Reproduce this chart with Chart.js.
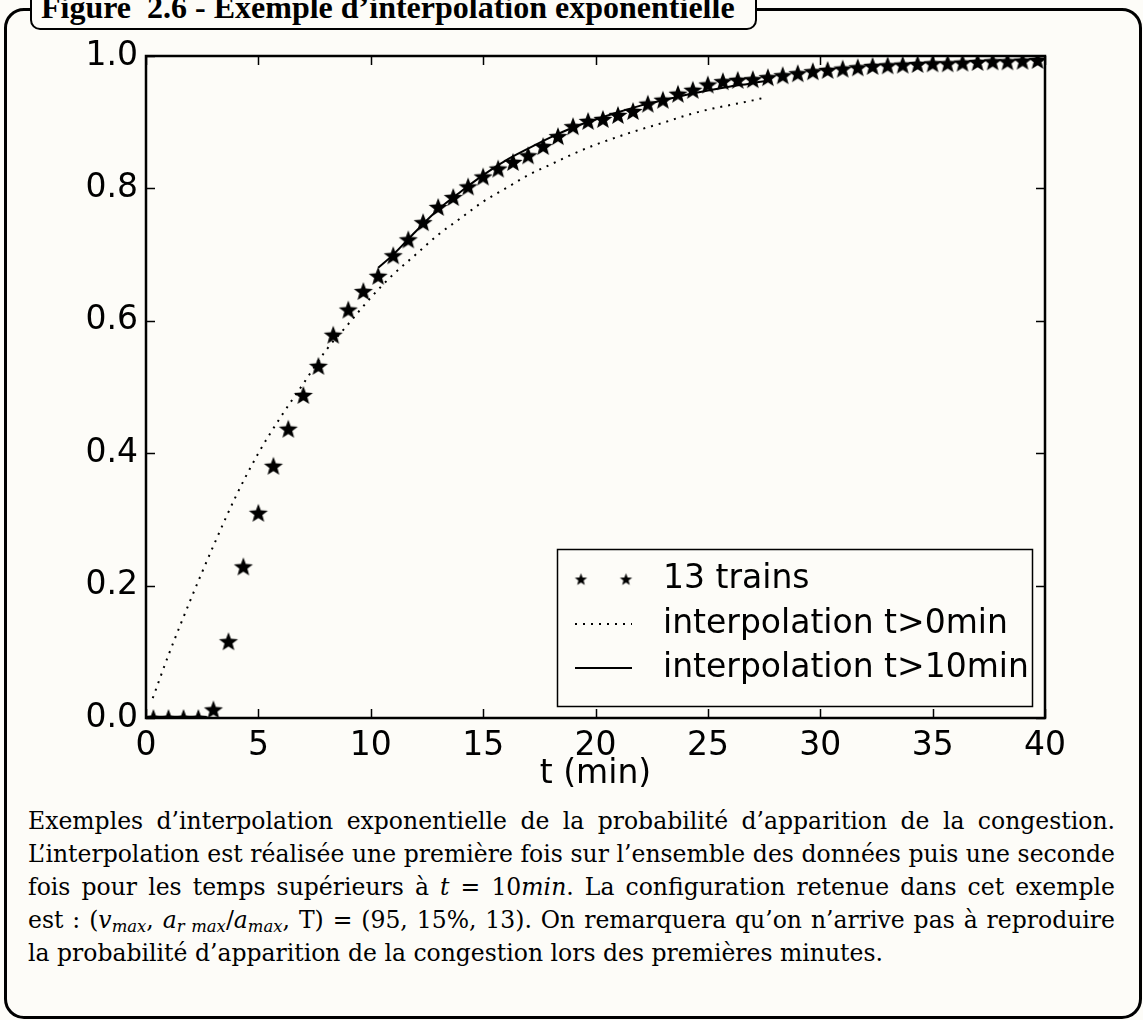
<!DOCTYPE html>
<html lang="fr">
<head>
<meta charset="utf-8">
<script src="https://cdn.jsdelivr.net/npm/chart.js@4.4.1/dist/chart.umd.min.js"></script>
<style>
  body { margin: 0; width: 1143px; height: 1020px; overflow: hidden; position: relative; background: #fdfcf8; }
  #frame { position: absolute; left: 4px; top: 8px; width: 1132px; height: 1005px; border: 3px solid #000; border-radius: 20px; }
  #title {
    position: absolute; left: 30px; top: -26px; width: 727px; height: 56px;
    border: 2px solid #000; border-radius: 10px; background: #fdfcf8;
    display: flex; align-items: flex-end; padding: 0 0 5px 9px; box-sizing: border-box;
    font: bold 32px "Liberation Serif", serif; white-space: nowrap; line-height: 1;
  }
  #wrap { position: absolute; left: 0; top: 0; width: 1143px; height: 800px; }
  #caption { position: absolute; left: 28px; top: 805px; width: 1087px; font: 23.5px "DejaVu Serif", serif; line-height: 33px; color: #000; }
  #caption div { white-space: nowrap; text-align: justify; text-align-last: justify; }
  #caption div.last { text-align-last: left; }
  #caption sub { font-size: 70%; vertical-align: -4px; line-height: 0; }
</style>
</head>
<body>
<div id="frame"></div>
<div id="title">Figure&nbsp; 2.6 - Exemple d’interpolation exponentielle</div>
<div id="wrap"><canvas id="chart" width="1143" height="800"></canvas></div>
<div id="caption">
  <div><span>Exemples d’interpolation exponentielle de la probabilité d’apparition de la congestion.</span></div>
  <div><span>L’interpolation est réalisée une première fois sur l’ensemble des données puis une seconde</span></div>
  <div><span>fois pour les temps supérieurs à <i>t</i> = 10<i>min</i>. La configuration retenue dans cet exemple</span></div>
  <div><span>est : (<i>v<sub>max</sub></i>, <i>a<sub>r max</sub></i>/<i>a<sub>max</sub></i>, T) = (95, 15%, 13). On remarquera qu’on n’arrive pas à reproduire</span></div>
  <div class="last"><span>la probabilité d’apparition de la congestion lors des premières minutes.</span></div>
</div>
<script>
// measured probability, 13 trains
const starT = [0.33, 1.00, 1.67, 2.33, 3.00, 3.67, 4.33, 5.00, 5.67, 6.33, 7.00, 7.67, 8.33, 9.00, 9.67,
  10.33, 11.00, 11.67, 12.33, 13.00, 13.67, 14.33, 15.00, 15.67, 16.33, 17.00, 17.67, 18.33, 19.00, 19.67,
  20.33, 21.00, 21.67, 22.33, 23.00, 23.67, 24.33, 25.00, 25.67, 26.33, 27.00, 27.67, 28.33, 29.00, 29.67,
  30.33, 31.00, 31.67, 32.33, 33.00, 33.67, 34.33, 35.00, 35.67, 36.33, 37.00, 37.67, 38.33, 39.00, 39.67];
const starP = [0, 0, 0, 0, 0.013, 0.116, 0.229, 0.310, 0.381, 0.437, 0.488, 0.532, 0.579, 0.617, 0.645,
  0.668, 0.699, 0.723, 0.749, 0.772, 0.787, 0.803, 0.818, 0.830, 0.840, 0.850, 0.864, 0.879, 0.894, 0.902,
  0.905, 0.911, 0.917, 0.928, 0.934, 0.943, 0.949, 0.957, 0.962, 0.964, 0.965, 0.968, 0.971, 0.974, 0.977,
  0.979, 0.981, 0.983, 0.985, 0.986, 0.987, 0.988, 0.989, 0.989, 0.990, 0.991, 0.992, 0.992, 0.993, 0.994];

// interpolation over all data (dotted)
const fitAllT = [0.3, 1, 2, 3, 4, 5, 6, 7, 8, 9, 10, 11, 12, 13, 14, 15, 16, 17, 18, 19, 20, 21, 22, 23, 24, 25, 26, 27, 27.5];
const fitAllP = [0.03, 0.095, 0.18, 0.26, 0.335, 0.40, 0.455, 0.505, 0.555, 0.595, 0.635, 0.67, 0.70, 0.73, 0.755,
  0.78, 0.80, 0.82, 0.836, 0.852, 0.866, 0.878, 0.889, 0.899, 0.910, 0.919, 0.926, 0.933, 0.937];

// interpolation for t > 10 min (solid)
const fitLateT = [10.33, 11, 12, 13, 14, 15, 16, 17, 18, 19, 20, 21, 22, 23, 24, 25, 26, 27, 27.5];
const fitLateP = [0.680, 0.700, 0.735, 0.768, 0.795, 0.820, 0.842, 0.860, 0.877, 0.892, 0.904, 0.915, 0.925,
  0.933, 0.941, 0.948, 0.954, 0.959, 0.962];

const xTicks = [0, 5, 10, 15, 20, 25, 30, 35, 40];
const yTicks = [0, 0.2, 0.4, 0.6, 0.8, 1.0];
const labels = ['13 trains', 'interpolation t>0min', 'interpolation t>10min'];

const BG = '#fdfcf8';
const FONT = '"DejaVu Sans", sans-serif';

// squeeze caption lines that are too long for the column
document.querySelectorAll('#caption div').forEach((row) => {
  const span = row.querySelector('span');
  const natural = span.getBoundingClientRect().width;
  const target = row.clientWidth;
  if (natural > target) {
    const n = span.textContent.length;
    span.style.letterSpacing = ((target - natural) / n - 0.05).toFixed(2) + 'px';
  }
});

function makeStar(r) {
  const size = Math.ceil(r * 2) + 2;
  const c = document.createElement('canvas');
  c.width = size; c.height = size;
  const g = c.getContext('2d');
  g.translate(size / 2, size / 2 + r * 0.1);
  g.beginPath();
  for (let i = 0; i < 10; i++) {
    const rad = i % 2 === 0 ? r : r * 0.42;
    const a = -Math.PI / 2 + i * Math.PI / 5;
    g.lineTo(rad * Math.cos(a), rad * Math.sin(a));
  }
  g.closePath();
  g.fillStyle = '#000';
  g.fill();
  return c;
}

const starBig = makeStar(10);
const starSmall = makeStar(6.5);

const pts = (xs, ys) => xs.map((x, i) => ({ x, y: ys[i] }));

const frameAndLegend = {
  id: 'frameAndLegend',
  afterDraw(chart) {
    const { ctx, chartArea: a, scales } = chart;
    ctx.save();
    // inward ticks on all four sides
    ctx.strokeStyle = '#000';
    ctx.lineWidth = 1.5;
    const L = 9;
    ctx.beginPath();
    xTicks.forEach(v => {
      const px = Math.round(scales.x.getPixelForValue(v)) + 0.5;
      ctx.moveTo(px, a.bottom); ctx.lineTo(px, a.bottom - L);
      ctx.moveTo(px, a.top); ctx.lineTo(px, a.top + L);
    });
    yTicks.forEach(v => {
      const py = Math.round(scales.y.getPixelForValue(v)) + 0.5;
      ctx.moveTo(a.left, py); ctx.lineTo(a.left + L, py);
      ctx.moveTo(a.right, py); ctx.lineTo(a.right - L, py);
    });
    ctx.stroke();
    // axes box
    ctx.lineWidth = 2.5;
    ctx.strokeRect(a.left, a.top, a.right - a.left, a.bottom - a.top);

    // legend
    const bw = 475, bh = 157;
    const bx = a.right - 13 - bw, by = a.bottom - 12 - bh;
    ctx.fillStyle = BG;
    ctx.fillRect(bx, by, bw, bh);
    ctx.lineWidth = 1.5;
    ctx.strokeRect(bx + 0.5, by + 0.5, bw, bh);
    const rows = [by + 30, by + 75, by + 119];
    const x0 = bx + 18, x1 = bx + 75, tx = bx + 106;
    ctx.drawImage(starSmall, bx + 24 - starSmall.width / 2, rows[0] - starSmall.height / 2);
    ctx.drawImage(starSmall, bx + 69 - starSmall.width / 2, rows[0] - starSmall.height / 2);
    ctx.strokeStyle = '#000';
    ctx.lineWidth = 2;
    ctx.setLineDash([2, 6]);
    ctx.beginPath(); ctx.moveTo(x0, rows[1]); ctx.lineTo(x1, rows[1]); ctx.stroke();
    ctx.setLineDash([]);
    ctx.beginPath(); ctx.moveTo(x0, rows[2]); ctx.lineTo(x1, rows[2]); ctx.stroke();
    ctx.fillStyle = '#000';
    ctx.font = '33px ' + FONT;
    ctx.textBaseline = 'middle';
    labels.forEach((t, i) => ctx.fillText(t, tx, rows[i]));
    ctx.restore();
  }
};

new Chart(document.getElementById('chart'), {
  type: 'scatter',
  data: {
    datasets: [
      {
        label: labels[0],
        data: pts(starT, starP),
        pointStyle: starBig,
        showLine: false,
        clip: 0,
        order: 0,
      },
      {
        label: labels[1],
        data: pts(fitAllT, fitAllP),
        showLine: true,
        borderColor: '#000',
        borderWidth: 2,
        borderDash: [2, 6],
        pointRadius: 0,
        cubicInterpolationMode: 'monotone',
        order: 1,
      },
      {
        label: labels[2],
        data: pts(fitLateT, fitLateP),
        showLine: true,
        borderColor: '#000',
        borderWidth: 2,
        pointRadius: 0,
        cubicInterpolationMode: 'monotone',
        order: 1,
      },
    ],
  },
  options: {
    responsive: false,
    animation: false,
    layout: { padding: { top: 56, right: 98, left: 0, bottom: 0 } },
    plugins: { legend: { display: false }, tooltip: { enabled: false } },
    scales: {
      x: {
        type: 'linear',
        min: 0,
        max: 40,
        afterBuildTicks: (s) => { s.ticks = xTicks.map(v => ({ value: v })); },
        afterFit: (s) => { s.height = 82; },
        grid: { display: false, drawTicks: false },
        border: { display: false },
        ticks: { color: '#000', font: { family: FONT, size: 33 }, padding: 9, maxRotation: 0 },
        title: { display: true, text: 't (min)', color: '#000', font: { family: FONT, size: 33 }, padding: { top: 0, bottom: 6 } },
      },
      y: {
        min: 0,
        max: 1,
        afterBuildTicks: (s) => { s.ticks = yTicks.map(v => ({ value: v })); },
        afterFit: (s) => { s.width = 146; },
        grid: { display: false, drawTicks: false },
        border: { display: false },
        ticks: { color: '#000', font: { family: FONT, size: 33 }, padding: 8, callback: (v) => v.toFixed(1) },
      },
    },
  },
  plugins: [frameAndLegend],
});
</script>
</body>
</html>
